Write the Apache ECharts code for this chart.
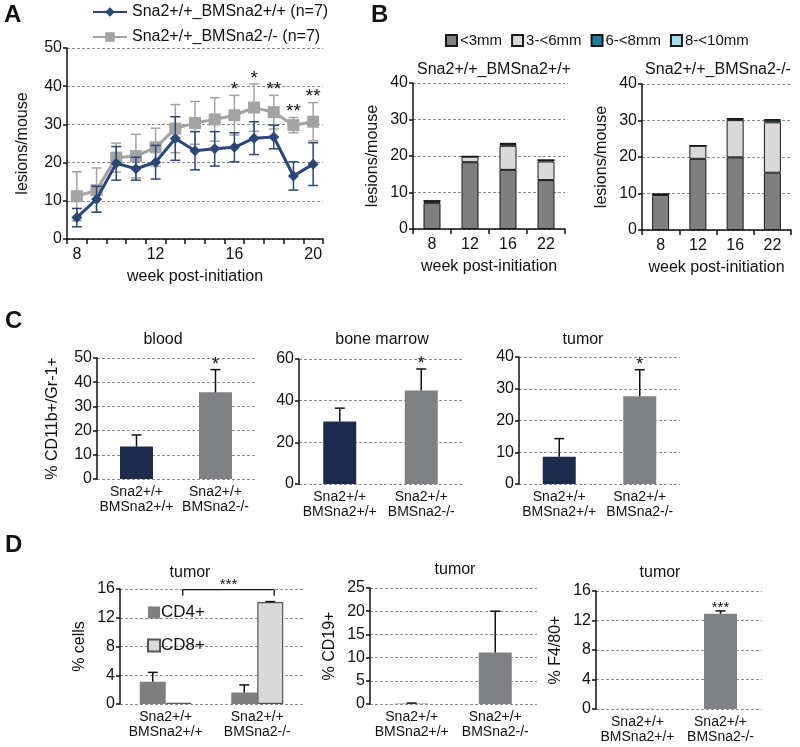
<!DOCTYPE html>
<html><head><meta charset="utf-8">
<script src="https://cdn.jsdelivr.net/npm/echarts@6/dist/echarts.min.js"></script>
<style>html,body{margin:0;padding:0;background:#fff}#c{width:800px;height:747px}</style>
</head><body><div id="c"></div><script>
// ---------- Panel A data ----------
const weeksA = ['8','9','10','11','12','13','14','15','16','17','18','19','20'];
const blueName = 'Sna2+/+_BMSna2+/+ (n=7)';
const grayName = 'Sna2+/+_BMSna2-/- (n=7)';
const blueMean = [5.6,10.4,19.8,18.4,20.1,26.3,23.1,23.6,24.0,26.4,26.7,16.5,19.6];
const blueErr  = [2.4,3.4,4.4,3.0,4.4,5.7,5.0,4.5,3.8,4.3,3.1,3.7,5.6];
const grayMean = [11.2,12.8,21.3,21.7,24.0,28.9,30.4,31.3,32.4,34.4,33.2,29.8,30.7];
const grayErr  = [6.4,5.8,3.8,5.7,5.0,6.3,5.6,5.7,5.2,6.2,4.4,2.0,5.0];
const starsA   = ['','','','','','','','','*','*','**','**','**'];
// ---------- Panel B data ----------
const weeksB = ['8','12','16','22'];
const sizeNames = ['<3mm','3-<6mm','6-<8mm','8-<10mm'];
const wtLt3  = [7.2,18.3,16.2,13.4];
const wt3to6 = [0.3,1.5,6.6,5.1];
const wt6to8 = [0.2,0.1,0.5,0.4];
const wt8to10= [0,0,0.3,0];
const koLt3  = [9.6,19.5,19.9,15.7];
const ko3to6 = [0.2,3.6,10.2,13.8];
const ko6to8 = [0,0,0.4,0.6];
const ko8to10= [0,0,0.1,0.3];
const titleB1 = 'Sna2+/+_BMSna2+/+';
const titleB2 = 'Sna2+/+_BMSna2-/-';
// ---------- Panel C data ----------
const groups = ['Sna2+/+\nBMSna2+/+','Sna2+/+\nBMSna2-/-'];
const bloodMean = [13.4,35.8], bloodErr = [4.8,9.4], bloodStars = ['','*'];
const bmMean = [30.0,44.9], bmErr = [6.4,10.3], bmStars = ['','*'];
const tumCMean = [8.6,27.6], tumCErr = [5.7,8.4], tumCStars = ['','*'];
// ---------- Panel D data ----------
const cd4Mean = [3.1,1.6], cd4Err = [1.3,1.05];
const cd8Mean = [0.15,14.2], cd8Err = [0,0.05];
const cd19Mean = [0.1,11.1], cd19Err = [0.1,8.9];
const f480Mean = [0.05,12.9], f480Err = [0,0.4], f480Stars = ['','***'];
const bracketD = {from:0, to:1, y:15.9, label:'***'};

const FONT = '"Liberation Sans", Arial, sans-serif';
const TXT = '#111';
const NAVY = '#1c2a4b', GRAYBAR = '#808184', BLUE = '#2a4778', GRAYL = '#a3a3a3';
const sizeColors = ['#7f7f7f','#d9d9d9','#1d7d98','#a6dcec'];

const grids = [
  {left:67, top:48, width:256, height:191},   // A
  {left:413, top:83, width:152, height:146},  // B1
  {left:642, top:84, width:149, height:146},  // B2
  {left:97, top:358, width:158, height:121},  // C blood
  {left:299, top:359, width:163, height:125}, // C bm
  {left:519, top:357, width:161, height:127}, // C tumor
  {left:120, top:589, width:183, height:115}, // D cells
  {left:370, top:588, width:167, height:116}, // D cd19
  {left:596, top:591, width:166, height:118}  // D f480
];

function yAx(gi, max, interval, name, nameGap) {
  return {type:'value', gridIndex:gi, min:0, max:max, interval:interval,
    axisLine:{show:true, lineStyle:{color:'#111', width:1.5}},
    axisTick:{show:true, length:4, lineStyle:{color:'#111', width:1.5}},
    axisLabel:{color:TXT, fontSize:16, fontFamily:FONT, margin:5},
    splitLine:{show:true, lineStyle:{color:'#8c8c8c', type:[3,2], width:1}},
    name:name||'', nameLocation:'middle', nameGap:nameGap||30,
    nameTextStyle:{color:TXT, fontSize:16, fontFamily:FONT}
  };
}
function xCat(gi, data, withLine, name, labInterval) {
  return {type:'category', gridIndex:gi, data:data, boundaryGap:true,
    axisLine:{show:withLine, lineStyle:{color:'#111', width:1.5}},
    axisTick:{show:withLine, interval:0, length:5, lineStyle:{color:'#111', width:1.5}},
    axisLabel:{color:TXT, fontSize: withLine?16:14, lineHeight:15, fontFamily:FONT, margin: withLine?8:6, interval: labInterval||0},
    splitLine:{show:false},
    name:name||'', nameLocation:'middle', nameGap:30,
    nameTextStyle:{color:TXT, fontSize:16, fontFamily:FONT}
  };
}
function errSeries(ai, means, errs, o) {
  o = o || {};
  return {type:'custom', xAxisIndex:ai, yAxisIndex:ai, z:o.z||10, silent:true,
    encode:{x:0, y:1},
    data: means.map((m,i)=>[i, m, errs[i]]),
    renderItem: function(params, api) {
      const i = api.value(0), m = api.value(1), e = api.value(2);
      const base = api.coord([i, m]);
      const top = api.coord([i, m+e]);
      const x = base[0] + (o.offset||0);
      const cap = o.cap||5;
      const st = {stroke:o.color||'#111', lineWidth:o.lw||1.5};
      const ch = [];
      if (e > 0) {
        const bot = o.both ? api.coord([i, m-e]) : base;
        ch.push({type:'line', shape:{x1:x,y1:bot[1],x2:x,y2:top[1]}, style:st});
        ch.push({type:'line', shape:{x1:x-cap,y1:top[1],x2:x+cap,y2:top[1]}, style:st});
        if (o.both) ch.push({type:'line', shape:{x1:x-cap,y1:bot[1],x2:x+cap,y2:bot[1]}, style:st});
      }
      const s = o.stars ? o.stars[params.dataIndex] : '';
      if (s) ch.push({type:'text', x:x + (o.starDx||0), y:top[1]+4,
        style:{text:s, textAlign:'center', textVerticalAlign:'bottom', fill:TXT, font:(o.starSize||18)+'px '+FONT}});
      return {type:'group', children:ch};
    }
  };
}
function barSeries(ai, means, colors, extra) {
  return Object.assign({type:'bar', xAxisIndex:ai, yAxisIndex:ai, barWidth:33,
    data: means.map((v,i)=>({value:v, itemStyle:{color:colors[i]}}))}, extra||{});
}

const series = [];
// A
series.push(errSeries(0, grayMean, grayErr, {both:true, color:GRAYL, cap:5, z:2}));
series.push({type:'line', name:grayName, xAxisIndex:0, yAxisIndex:0, data:grayMean, z:3,
  symbol:'rect', symbolSize:12, lineStyle:{color:GRAYL, width:3}, itemStyle:{color:GRAYL}});
series.push(errSeries(0, blueMean, blueErr, {both:true, color:BLUE, cap:5, z:4}));
series.push({type:'line', name:blueName, xAxisIndex:0, yAxisIndex:0, data:blueMean, z:5,
  symbol:'diamond', symbolSize:11, lineStyle:{color:BLUE, width:3}, itemStyle:{color:BLUE}});
series.push(errSeries(0, grayMean, grayErr, {color:'rgba(0,0,0,0)', stars:starsA, z:6, starSize:19}));
// B
const wt = [wtLt3, wt3to6, wt6to8, wt8to10], ko = [koLt3, ko3to6, ko6to8, ko8to10];
[[1, wt, 'wt'], [2, ko, 'ko']].forEach(([ai, arr, st]) => {
  arr.forEach((d, k) => series.push({type:'bar', name:sizeNames[k], stack:st, xAxisIndex:ai, yAxisIndex:ai,
    barWidth:17, data:d, itemStyle:{color:sizeColors[k], borderColor:'#1a1a1a', borderWidth:1}}));
});
// C
[[3, bloodMean, bloodErr, bloodStars], [4, bmMean, bmErr, bmStars], [5, tumCMean, tumCErr, tumCStars]].forEach(([ai, m, e, s]) => {
  series.push(barSeries(ai, m, [NAVY, GRAYBAR]));
  series.push(errSeries(ai, m, e, {stars:s, cap:5}));
});
// D cells
series.push({type:'bar', name:'CD4+', xAxisIndex:6, yAxisIndex:6, barWidth:26, barGap:'0%', data:cd4Mean,
  itemStyle:{color:'#7f7f7f'}});
series.push({type:'bar', name:'CD8+', xAxisIndex:6, yAxisIndex:6, barWidth:26, barGap:'0%', data:cd8Mean,
  itemStyle:{color:'#d9d9d9', borderColor:'#555', borderWidth:1.2}});
series.push(errSeries(6, cd4Mean, cd4Err, {offset:-13, cap:5}));
series.push(errSeries(6, cd8Mean, cd8Err, {offset:13, cap:5}));
series.push({type:'custom', xAxisIndex:6, yAxisIndex:6, silent:true, z:12, encode:{x:0,y:1},
  data:[[bracketD.from, bracketD.y, bracketD.to]],
  renderItem:function(params, api){
    const a = api.coord([api.value(0), api.value(1)]);
    const b = api.coord([api.value(2), api.value(1)]);
    const x1 = a[0]+17, x2 = b[0]+17, y = a[1];
    const st = {stroke:'#111', lineWidth:1.3};
    return {type:'group', children:[
      {type:'line', shape:{x1:x1,y1:y,x2:x2,y2:y}, style:st},
      {type:'line', shape:{x1:x1,y1:y,x2:x1,y2:y+6}, style:st},
      {type:'line', shape:{x1:x2,y1:y,x2:x2,y2:y+6}, style:st},
      {type:'text', x:(x1+x2)/2, y:y+3, style:{text:bracketD.label, textAlign:'center', textVerticalAlign:'bottom', fill:TXT, font:'15px '+FONT}}
    ]};
  }});
// D cd19
series.push(barSeries(7, cd19Mean, [GRAYBAR, GRAYBAR]));
series.push(errSeries(7, cd19Mean, cd19Err, {cap:5}));
// D f480
series.push(barSeries(8, f480Mean, [GRAYBAR, GRAYBAR]));
series.push(errSeries(8, f480Mean, f480Err, {stars:f480Stars, cap:5, starSize:15}));

function txt(x, y, s, size, bold, align) {
  return {type:'text', x:x, y:y, style:{text:s, textAlign:align||'center', textVerticalAlign:'middle', fill:TXT,
    font:(bold?'bold ':'')+size+'px '+FONT}};
}

const option = {
  backgroundColor:'#fff',
  animation:false,
  grid: grids.map(g => Object.assign({containLabel:false}, g)),
  xAxis: [
    xCat(0, weeksA, true, 'week post-initiation', 3),
    xCat(1, weeksB, true, 'week post-initiation'),
    xCat(2, weeksB, true, 'week post-initiation'),
    xCat(3, groups, false), xCat(4, groups, false), xCat(5, groups, false),
    xCat(6, groups, false), xCat(7, groups, false), xCat(8, groups, false)
  ],
  yAxis: [
    yAx(0, 50, 10, 'lesions/mouse', 36),
    yAx(1, 40, 10, 'lesions/mouse', 32),
    yAx(2, 40, 10, 'lesions/mouse', 32),
    yAx(3, 50, 10, '% CD11b+/Gr-1+', 36),
    yAx(4, 60, 20), yAx(5, 40, 10),
    yAx(6, 16, 4, '% cells', 32),
    yAx(7, 25, 5, '% CD19+', 32),
    yAx(8, 16, 4, '% F4/80+', 32)
  ],
  legend: [
    {data:[blueName, grayName], orient:'vertical', left:92, top:4, padding:0, itemWidth:34, itemHeight:12, itemGap:9,
      textStyle:{color:TXT, fontSize:16, fontFamily:FONT}},
    {data:sizeNames, orient:'horizontal', left:445, top:33, padding:0, itemWidth:11, itemHeight:11, itemGap:9, icon:'rect',
      textStyle:{color:TXT, fontSize:15, fontFamily:FONT, padding:[0,0,0,-2]}},
    {data:['CD4+','CD8+'], orient:'vertical', left:147, top:604, padding:0, itemWidth:12, itemHeight:12, itemGap:16, icon:'rect',
      textStyle:{color:TXT, fontSize:17, fontFamily:FONT, padding:[0,0,0,-4]}}
  ],
  graphic: [
    txt(4, 15, 'A', 24, true, 'left'), txt(371, 15, 'B', 24, true, 'left'),
    txt(5, 321, 'C', 24, true, 'left'), txt(5, 545, 'D', 24, true, 'left'),
    txt(494, 70, titleB1, 16), txt(718, 70, titleB2, 16),
    txt(163, 340, 'blood', 16), txt(382, 340, 'bone marrow', 16), txt(583, 340, 'tumor', 16),
    txt(190, 573, 'tumor', 16), txt(455, 570, 'tumor', 16), txt(660, 573, 'tumor', 16)
  ],
  series: series
};
const chart = echarts.init(document.getElementById('c'), null, {renderer:'canvas'});
chart.setOption(option);
</script></body></html>
